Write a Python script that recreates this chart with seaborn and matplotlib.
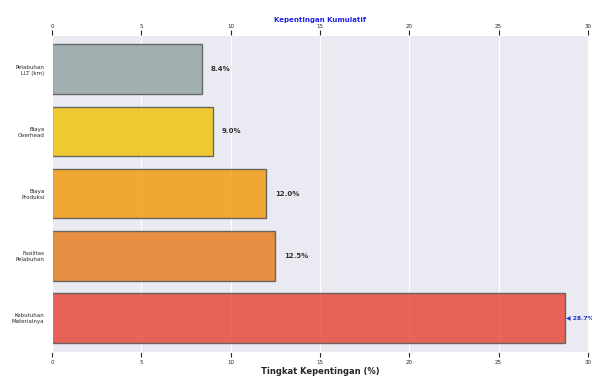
import matplotlib
matplotlib.use("Agg")
import matplotlib.pyplot as plt
import seaborn as sns

categories = ["Pelabuhan\nLLT (km)", "Biaya\nOverhead", "Biaya\nProduksi",
              "Fasilitas\nPelabuhan", "Kebutuhan\nMaterialnya"]
values = [8.4, 9.0, 12.0, 12.5, 28.7]
colors = ["#95a5a6", "#f1c40f", "#f39c12", "#e67e22", "#e74c3c"]
ticks = [0, 5, 10, 15, 20, 25, 30]

sns.set_style("darkgrid")
fig = plt.figure(figsize=(5.92, 3.81), dpi=100)
ax = fig.add_axes([0.088, 0.076, 0.905, 0.832])

sns.barplot(x=values, y=categories, hue=categories, palette=colors, orient="h",
            legend=False, ax=ax, width=0.8, edgecolor="#555555", linewidth=1,
            alpha=0.85, saturation=1)

for i, v in enumerate(values[:-1]):
    ax.text(v + 0.5, i, f"{v:.1f}%", va="center", ha="left", fontsize=5,
            fontweight="bold", color="#333333")
ax.text(values[-1] + 0.05, 4, f"\u25C0 {values[-1]:.1f}%", va="center", ha="left",
        fontsize=4.3, fontweight="bold", color="#2233cc", clip_on=False)

ax.set_xlim(0, 30)
ax.set_ylim(4.55, -0.55)
ax.set_xticks(ticks)
ax.tick_params(axis="x", labelsize=4, pad=2)
ax.tick_params(axis="y", labelsize=4, pad=2)
ax.set_xlabel("Tingkat Kepentingan (%)", fontsize=6, fontweight="bold", labelpad=2)
ax.set_ylabel("")
ax.grid(axis="y", visible=False)

top = ax.twiny()
top.set_xlim(0, 30)
top.set_xticks(ticks)
top.grid(False)
top.tick_params(axis="x", labelsize=4, pad=1)
top.set_xlabel("Kepentingan Kumulatif", fontsize=5, fontweight="bold",
               color="#2222ee", labelpad=1)
for s in top.spines.values():
    s.set_visible(False)

fig.savefig("out.png", dpi=100)
